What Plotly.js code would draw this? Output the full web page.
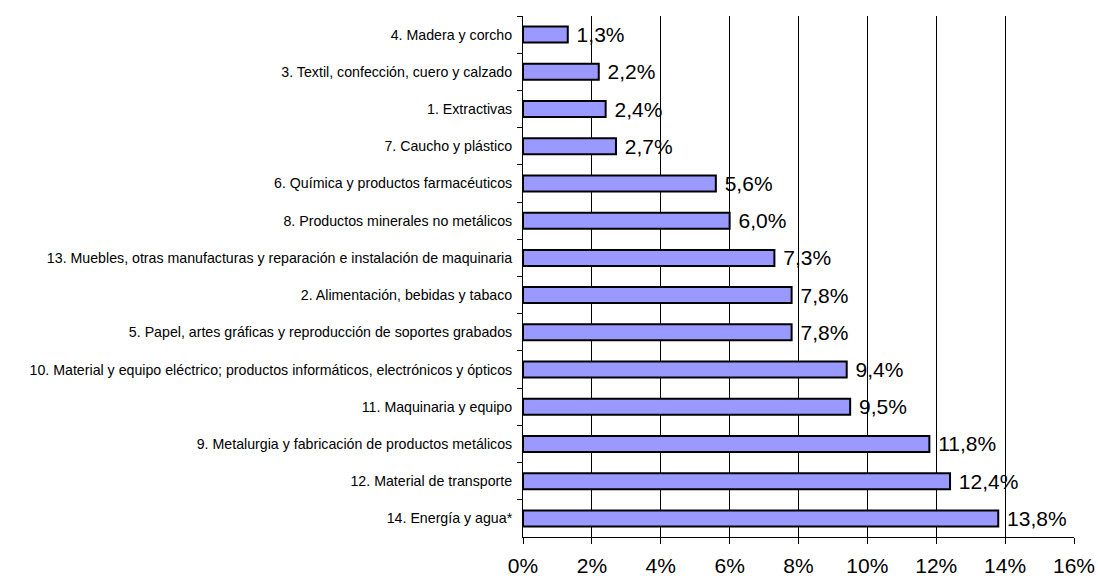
<!DOCTYPE html>
<html>
<head>
<meta charset="utf-8">
<script src="https://cdn.plot.ly/plotly-3.0.1.min.js"></script>
<style>html,body{margin:0;padding:0;background:#fff;}#chart{width:1098px;height:576px;}</style>
</head>
<body>
<div id="chart"></div>
<script>
const categories = [
  "4. Madera y corcho",
  "3. Textil, confección, cuero y calzado",
  "1. Extractivas",
  "7. Caucho y plástico",
  "6. Química y productos farmacéuticos",
  "8. Productos minerales no metálicos",
  "13. Muebles, otras manufacturas y reparación e instalación de maquinaria",
  "2. Alimentación, bebidas y tabaco",
  "5. Papel, artes gráficas y reproducción de soportes grabados",
  "10. Material y equipo eléctrico; productos informáticos, electrónicos y ópticos",
  "11. Maquinaria y equipo",
  "9. Metalurgia y fabricación de productos metálicos",
  "12. Material de transporte",
  "14. Energía y agua*"
];
const values = [1.3, 2.2, 2.4, 2.7, 5.6, 6.0, 7.3, 7.8, 7.8, 9.4, 9.5, 11.8, 12.4, 13.8];
const xTicks = [0, 2, 4, 6, 8, 10, 12, 14, 16];

const trace = {
  type: 'bar',
  orientation: 'h',
  x: values,
  y: categories,
  marker: {color: '#9999FF', line: {color: '#000000', width: 2}},
  texttemplate: '\u00a0%{x:.1f}%',
  textposition: 'outside',
  constraintext: 'none',
  cliponaxis: false,
  textfont: {family: 'Liberation Sans, Arial, sans-serif', size: 21, color: '#000'},
  hoverinfo: 'skip'
};

const layout = {
  width: 1098, height: 576,
  margin: {l: 523, r: 24, t: 16, b: 39},
  paper_bgcolor: '#fff', plot_bgcolor: '#fff',
  separators: ',.',
  showlegend: false,
  bargap: 0.57,
  font: {family: 'Liberation Sans, Arial, sans-serif', color: '#000'},
  xaxis: {
    range: [0, 16], tickvals: xTicks, ticktext: xTicks.map(v => v + '%'),
    showgrid: true, gridcolor: '#000', gridwidth: 1,
    zeroline: false, showline: true, linecolor: '#000', linewidth: 1,
    ticks: 'outside', ticklen: 6, tickcolor: '#000', tickwidth: 1,
    tickfont: {size: 21, color: '#000'}, ticklabelstandoff: 4,
    fixedrange: true
  },
  yaxis: {
    autorange: 'reversed', type: 'category',
    showgrid: false, zeroline: false,
    showline: true, linecolor: '#000', linewidth: 1,
    ticks: 'outside', tickson: 'boundaries', ticklen: 5, tickcolor: '#000',
    tickfont: {size: 14.2, color: '#000'}, ticklabelstandoff: 7,
    fixedrange: true
  }
};

Plotly.newPlot('chart', [trace], layout, {displayModeBar: false, staticPlot: true});
</script>
</body>
</html>
